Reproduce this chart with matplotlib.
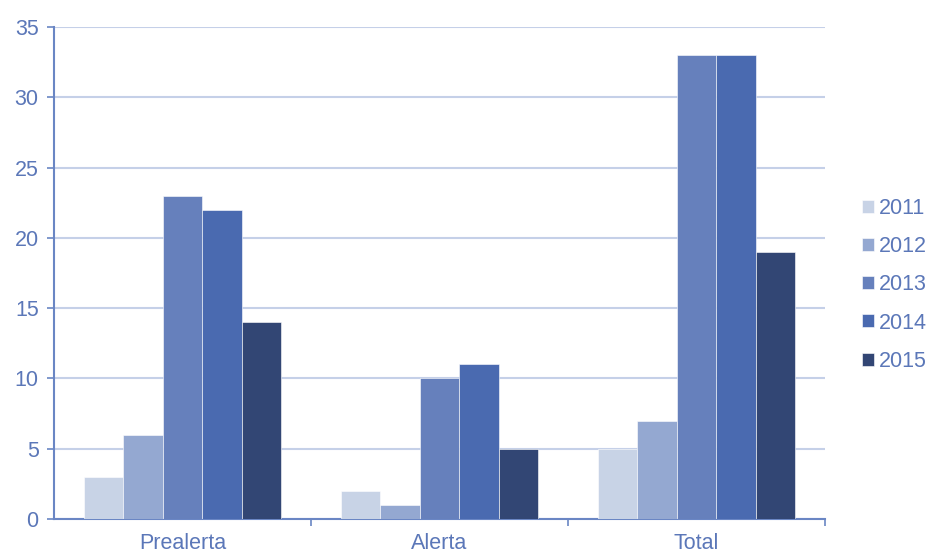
import numpy as np
import matplotlib.pyplot as plt

plt.rcParams['font.family'] = ['Liberation Sans', 'DejaVu Sans']

# datos
categorias = ['Prealerta', 'Alerta', 'Total']
anios = ['2011', '2012', '2013', '2014', '2015']
v2011 = [3, 2, 5]
v2012 = [6, 1, 7]
v2013 = [23, 10, 33]
v2014 = [22, 11, 33]
v2015 = [14, 5, 19]
series = [v2011, v2012, v2013, v2014, v2015]
colores = ['#C8D3E6', '#94A8D1', '#6680BC', '#4A6AB0', '#324674']

txt = '#5B77B8'
eje = '#6A86C4'
fs = 15.5

fig = plt.figure(figsize=(9.29, 5.54), dpi=100)
ax = fig.add_axes([0.0581, 0.0632, 0.830, 0.8881])

x = np.arange(len(categorias))
ancho = 0.77 / 5
for i, (vals, col) in enumerate(zip(series, colores)):
    ax.bar(x - 0.385 + ancho * (i + 0.5), vals, ancho, color=col,
           edgecolor='white', linewidth=0.4, label=anios[i], zorder=3)

ax.set_xlim(-0.5, 2.5)
ax.set_ylim(0, 35)
ax.set_yticks(range(0, 36, 5))
ax.yaxis.grid(True, color='#C5D0E8', linewidth=1.5, zorder=0)

# ticks del eje x en los limites de categoria
ax.set_xticks([0.5, 1.5, 2.5], minor=False)
ax.set_xticklabels([])
ax.set_xticks(x, minor=True)
ax.set_xticklabels(categorias, minor=True)
ax.tick_params(axis='x', which='minor', length=0, pad=10, labelsize=fs, labelcolor=txt)
ax.tick_params(axis='x', which='major', length=5, color=eje, width=1.2)
ax.tick_params(axis='y', length=5, color=eje, width=1.2, labelsize=fs, labelcolor=txt, pad=6)

for s in ['top', 'right']:
    ax.spines[s].set_visible(False)
for s in ['left', 'bottom']:
    ax.spines[s].set_color(eje)
    ax.spines[s].set_linewidth(1.5)

ax.legend(loc='center left', bbox_to_anchor=(1.048, 0.476), frameon=False,
          fontsize=fs, labelcolor=txt, handlelength=0.55, handleheight=0.55,
          handletextpad=0.25, labelspacing=0.8, borderaxespad=0, borderpad=0)

fig.savefig('out.png', dpi=100)
